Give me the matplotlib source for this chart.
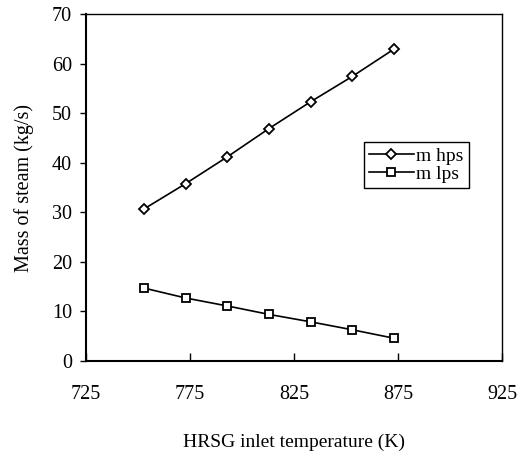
import matplotlib
matplotlib.use("Agg")
import matplotlib.pyplot as plt

temperature = [753, 773, 793, 813, 833, 853, 873]
m_hps = [30.7, 35.8, 41.2, 46.9, 52.3, 57.4, 62.9]
m_lps = [14.7, 12.7, 11.1, 9.4, 7.9, 6.3, 4.6]
xticks = [725, 775, 825, 875, 925]
yticks = [0, 10, 20, 30, 40, 50, 60, 70]

plt.rcParams['font.family'] = ['Liberation Serif', 'DejaVu Serif']

fig = plt.figure(figsize=(5.26, 4.54), dpi=100)
W, H = 526, 454
ax = fig.add_axes([86 / W, 1 - 361 / H, (502 - 86) / W, (361 - 14) / H])

ax.plot(temperature, m_hps, color='black', lw=1.2, marker='D', ms=5.5,
        mfc='white', mec='black', mew=1.3, label='m hps')
ax.plot(temperature, m_lps, color='black', lw=1.2, marker='s', ms=5.5,
        mfc='white', mec='black', mew=1.3, label='m lps')

ax.set_xlim(725, 925)
ax.set_ylim(0, 70)
ax.set_xticks(xticks)
ax.set_yticks(yticks)
ax.tick_params(axis='x', direction='in', length=6, width=1, pad=17, labelsize=14.5)
ax.tick_params(axis='y', direction='out', length=4, width=1, pad=6, labelsize=14.5)
for s in ['left', 'bottom']:
    ax.spines[s].set_linewidth(1.5)
for s in ['right', 'top']:
    ax.spines[s].set_linewidth(1.0)

ax.set_ylabel('Mass of steam (kg/s)', fontsize=14.5, labelpad=13)
ax.set_xlabel('HRSG inlet temperature (K)', fontsize=14, labelpad=22)

leg = ax.legend(loc='upper right', bbox_to_anchor=(0.92, 0.631), borderaxespad=0,
                fancybox=False, framealpha=1, edgecolor='black', fontsize=14,
                handlelength=2.3, handletextpad=0.15, borderpad=0.25, labelspacing=0.05)
leg.get_frame().set_linewidth(1.0)

fig.savefig('out.png', dpi=100)
